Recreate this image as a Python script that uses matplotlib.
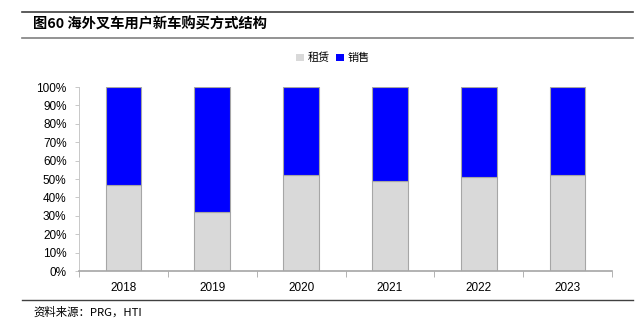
import matplotlib
matplotlib.use('Agg')
import matplotlib.pyplot as plt
from matplotlib.lines import Line2D
from matplotlib.patches import Patch

plt.rcParams['font.family'] = ['Noto Sans CJK SC', 'DejaVu Sans']

# 数据
years = ['2018', '2019', '2020', '2021', '2022', '2023']
rent = [47, 32, 52, 49, 51, 52]       # 租赁占比 %
sale = [53, 68, 48, 51, 49, 48]       # 销售占比 %
y_ticks = [0, 10, 20, 30, 40, 50, 60, 70, 80, 90, 100]

GREY = '#d9d9d9'
BLUE = '#0000ff'
EDGE = '#a6a6a6'

fig = plt.figure(figsize=(6.37, 3.29), dpi=100)
ax = fig.add_axes([79/637, (329-271)/329, (612-79)/637, (271-87)/329])

x = list(range(len(years)))
ax.bar(x, rent, width=0.4, color=GREY, edgecolor=EDGE, linewidth=0.8)
ax.bar(x, sale, width=0.4, bottom=rent, color=BLUE, edgecolor=EDGE, linewidth=0.8)

ax.set_xlim(-0.5, len(years) - 0.5)
ax.set_ylim(0, 100)
ax.set_yticks(y_ticks)
ax.set_yticklabels([f'{v}%' for v in y_ticks], family='Liberation Sans', fontsize=8.5)
ax.set_xticks(x)
ax.set_xticklabels(years, family='Liberation Sans', fontsize=8.5)
ax.tick_params(axis='x', length=0, pad=8)
ax.tick_params(axis='y', length=3, pad=6, color='#c8c8c8', width=0.7)
ax.set_xticks([i - 0.5 for i in range(len(years) + 1)], minor=True)
ax.tick_params(axis='x', which='minor', length=4, direction='out', color=EDGE)

for s in ['top', 'right']:
    ax.spines[s].set_visible(False)
ax.spines['left'].set_color('#c8c8c8')
ax.spines['left'].set_linewidth(0.7)
ax.spines['bottom'].set_color(EDGE)
ax.spines['bottom'].set_linewidth(1.2)

# 图例
handles = [Patch(facecolor=GREY, edgecolor='none'), Patch(facecolor=BLUE, edgecolor='none')]
fig.legend(handles, ['租赁', '销售'], loc='center', bbox_to_anchor=(333/637, 1 - 58/329),
           ncol=2, frameon=False, fontsize=8, handlelength=0.7, handleheight=0.7,
           handletextpad=0.3, columnspacing=0.6)

# 标题与来源
fig.add_artist(Line2D([22/637, 633/637], [1 - 12/329, 1 - 12/329], color='#404040', linewidth=1.2))
fig.add_artist(Line2D([22/637, 633/637], [1 - 38/329, 1 - 38/329], color='#808080', linewidth=1.2))
fig.text(33/637, 1 - 25/329, '图60 海外叉车用户新车购买方式结构', fontsize=10.3, fontweight='bold',
         va='center', ha='left')
fig.add_artist(Line2D([22/637, 633/637], [1 - 300/329, 1 - 300/329], color='#404040', linewidth=1.0))
fig.text(33/637, 1 - 312/329, '资料来源：PRG，HTI', fontsize=8.2, va='center', ha='left')

fig.savefig('out.png', dpi=100)
